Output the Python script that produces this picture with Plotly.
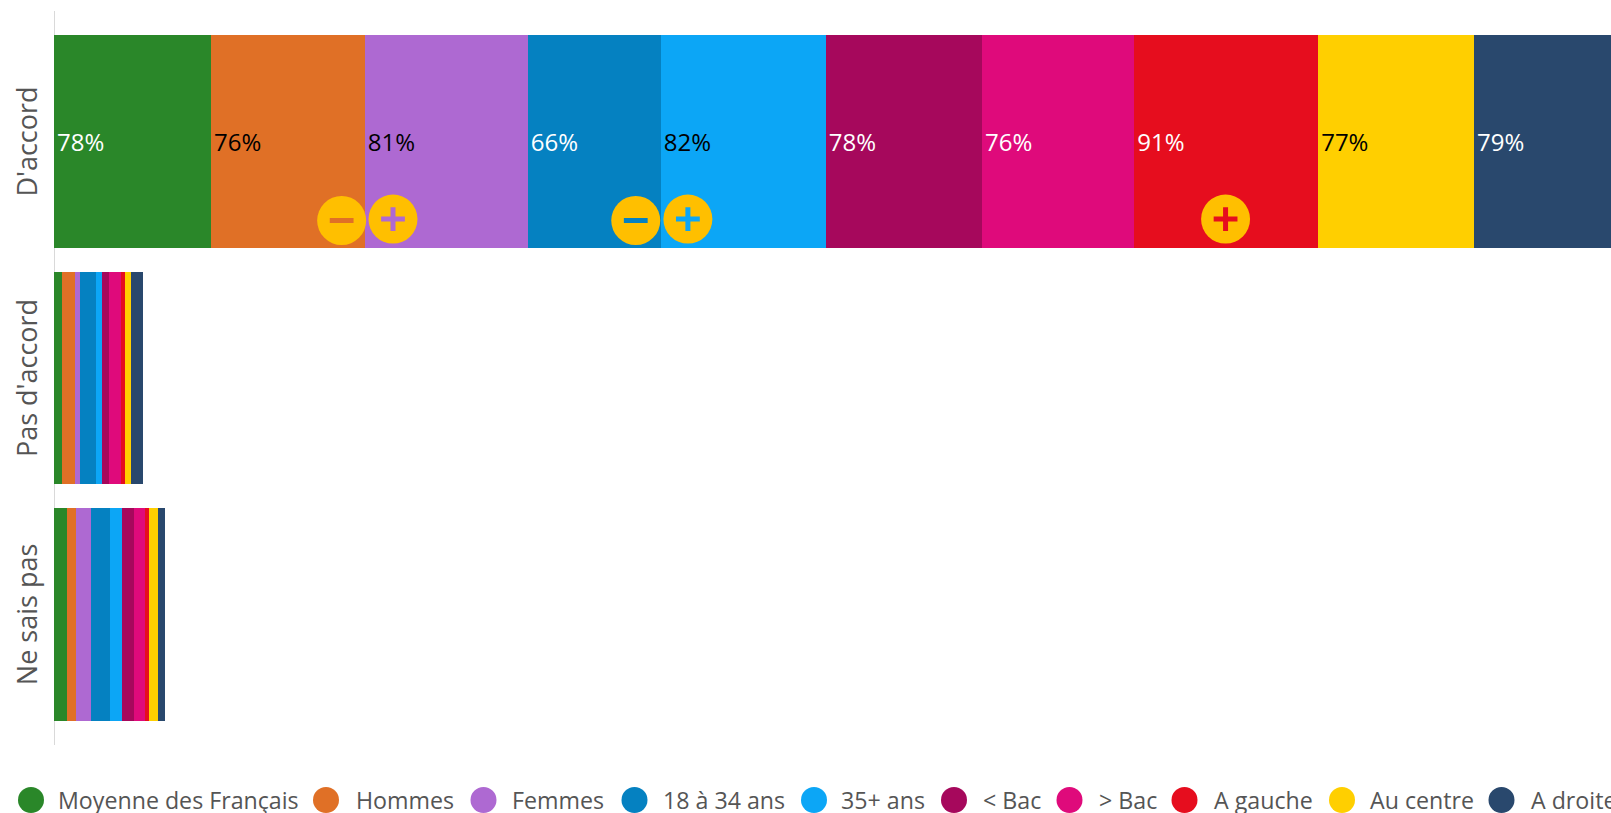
import numpy as np
import plotly.graph_objects as go

W, H = 1611, 813
L, T, B = 54, 11, 745

categories = ["D'accord", "Pas d'accord", "Ne sais pas"]
series = ["Moyenne des Français", "Hommes", "Femmes", "18 à 34 ans", "35+ ans",
          "< Bac", "> Bac", "A gauche", "Au centre", "A droite"]
colors = ["#2A8729", "#E07026", "#AE69D2", "#0581C1", "#0CA6F6",
          "#A6085C", "#DF0A7B", "#E60D1E", "#FFCF00", "#29486D"]
label_colors = ["white", "black", "black", "white", "black",
                "white", "white", "white", "black", "white"]

d_accord = [78, 76.4, 81, 66, 82, 77.6, 75.6, 91.4, 77.4, 79]
d_accord_labels = ["78%", "76%", "81%", "66%", "82%", "78%", "76%", "91%", "77%", "79%"]
pas_d_accord = [4, 6.5, 2.5, 8, 3, 3.5, 5.8, 2, 3, 5.8]
ne_sais_pas = [6.5, 4.3, 7.6, 9.4, 6, 6, 5.5, 2, 4.5, 3.3]

# badges: series index, sign, offset from the series' stack start (value units), row position
badge_series = [1, 2, 3, 4, 7]
badge_signs = ["-", "+", "-", "+", "+"]
badge_offsets = [64.9, 14, 53.6, 13.5, 45.4]
badge_y = [0.334, 0.328, 0.334, 0.328, 0.328]

legend_circle_x = [31, 326, 483.5, 634.5, 814, 954, 1069.5, 1184.5, 1342, 1501.5]
legend_text_x = [58, 356, 512, 662.5, 841, 983, 1099, 1213.5, 1369.5, 1531]
legend_y = 800

px_per_unit = 2.013
x_max = (W - L) / px_per_unit
rows = np.array([d_accord, pas_d_accord, ne_sais_pas], dtype=float)
y_pos = [0, 1, 2]
tick_label_pos = [0.017, 1.017, 2.017]

fig = go.Figure()
for i, name in enumerate(series):
    fig.add_trace(go.Bar(
        x=rows[:, i], y=y_pos, orientation="h", name=name,
        marker=dict(color=colors[i], line=dict(width=0)),
        text=[d_accord_labels[i], "", ""],
        textposition="inside", insidetextanchor="start", textangle=0,
        constraintext="none", cliponaxis=True,
        textfont=dict(family="Open Sans", size=24, color=label_colors[i]),
        showlegend=False,
    ))

starts = np.concatenate([[0], np.cumsum(d_accord)[:-1]])
for s, sign, off, by in zip(badge_series, badge_signs, badge_offsets, badge_y):
    bx = starts[s] + off
    fig.add_trace(go.Scatter(
        x=[bx], y=[by], mode="markers", showlegend=False, hoverinfo="skip",
        marker=dict(symbol="circle", size=49, color="#FFBF00", line=dict(width=0)),
    ))
    fig.add_trace(go.Scatter(
        x=[bx], y=[by], mode="markers", showlegend=False, hoverinfo="skip",
        marker=dict(symbol="line-ew" if sign == "-" else "cross-thin", size=17,
                    color=colors[s], line=dict(width=5, color=colors[s])),
    ))

plot_w, plot_h = W - L, B - T
def xp(v):
    return (v - L) / plot_w
def yp(v):
    return (B - v) / plot_h

shapes = [dict(type="line", xref="x", yref="paper", x0=0, x1=0, y0=0, y1=1, layer="below",
               line=dict(color="#D9D9D9", width=2))]
annos = []
for cx, tx, c, name in zip(legend_circle_x, legend_text_x, colors, series):
    shapes.append(dict(type="circle", xref="paper", yref="paper",
                       x0=xp(cx - 13), x1=xp(cx + 13),
                       y0=yp(legend_y + 13), y1=yp(legend_y - 13),
                       fillcolor=c, line=dict(width=0)))
    annos.append(dict(xref="paper", yref="paper", x=xp(tx), y=yp(legend_y),
                      xanchor="left", yanchor="middle", text=name, showarrow=False,
                      borderpad=0, borderwidth=0,
                      font=dict(family="Open Sans", size=23.2, color="#555555")))

fig.update_layout(
    width=W, height=H, margin=dict(l=L, r=0, t=T, b=H - B),
    barmode="stack", bargap=0.0994,
    paper_bgcolor="white", plot_bgcolor="white",
    shapes=shapes, annotations=annos,
    font=dict(family="Open Sans"),
    xaxis=dict(range=[0, x_max], visible=False, fixedrange=True),
    yaxis=dict(range=[2.552, -0.552], tickmode="array", tickvals=tick_label_pos, ticktext=categories,
               tickangle=-90, showgrid=False, zeroline=False, ticks="", showline=False,
               ticklabelstandoff=11, fixedrange=True,
               tickfont=dict(family="Open Sans", size=27, color="#555555")),
)

fig.write_html("out.html", config=dict(displayModeBar=False),
               post_script="document.body.style.margin='0';document.body.style.overflow='hidden';")
